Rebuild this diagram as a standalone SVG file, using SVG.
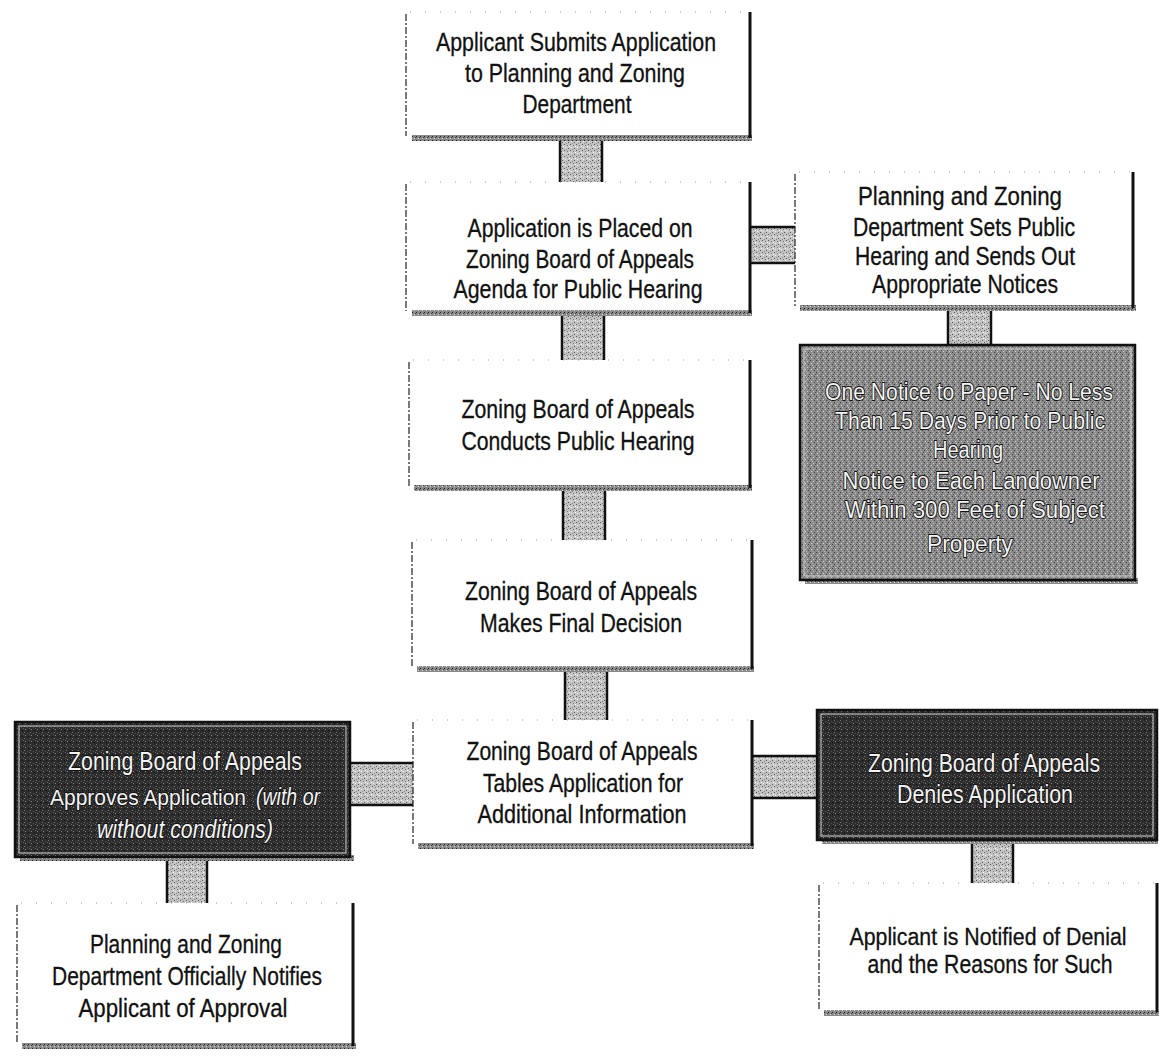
<svg xmlns="http://www.w3.org/2000/svg" width="1159" height="1057" viewBox="0 0 1159 1057">
<defs>
<pattern id="speckLight" width="6" height="6" patternUnits="userSpaceOnUse">
<rect width="6" height="6" fill="#c4c4c4"/>
<rect x="0" y="0" width="1" height="1" fill="#555"/>
<rect x="3" y="1" width="1" height="1" fill="#777"/>
<rect x="1" y="3" width="1" height="1" fill="#eee"/>
<rect x="4" y="4" width="1" height="1" fill="#555"/>
<rect x="2" y="5" width="1" height="1" fill="#888"/>
<rect x="5" y="2" width="1" height="1" fill="#fff"/>
</pattern>
<pattern id="speckMid" width="6" height="6" patternUnits="userSpaceOnUse">
<rect width="6" height="6" fill="#8a8a8a"/>
<rect x="0" y="0" width="1" height="1" fill="#3a3a3a"/>
<rect x="3" y="1" width="1" height="1" fill="#c8c8c8"/>
<rect x="1" y="3" width="1" height="1" fill="#d8d8d8"/>
<rect x="4" y="4" width="1" height="1" fill="#444"/>
<rect x="2" y="5" width="1" height="1" fill="#bbb"/>
<rect x="5" y="2" width="1" height="1" fill="#555"/>
</pattern>
<pattern id="speckDark" width="6" height="6" patternUnits="userSpaceOnUse">
<rect width="6" height="6" fill="#2c2c2c"/>
<rect x="0" y="0" width="1" height="1" fill="#777"/>
<rect x="3" y="1" width="1" height="1" fill="#555"/>
<rect x="1" y="3" width="1" height="1" fill="#888"/>
<rect x="4" y="4" width="1" height="1" fill="#111"/>
<rect x="5" y="2" width="1" height="1" fill="#666"/>
</pattern>
<pattern id="speckShadow" width="4" height="4" patternUnits="userSpaceOnUse">
<rect width="4" height="4" fill="#8a8a8a"/>
<rect x="0" y="0" width="1" height="1" fill="#222"/>
<rect x="2" y="2" width="1" height="1" fill="#ddd"/>
<rect x="3" y="1" width="1" height="1" fill="#444"/>
</pattern>
</defs>
<style>
.wbox{fill:#ffffff;stroke:none}
.ledge{stroke:#222;stroke-width:1.2;stroke-dasharray:7 2 2 2;fill:none}
.redge{stroke:#111;stroke-width:3;fill:none}
.tedge{stroke:#999;stroke-width:1;stroke-dasharray:1 14;fill:none}
.shadow{fill:url(#speckShadow)}
.grey{fill:url(#speckMid);stroke:#111;stroke-width:2.5}
.dark{fill:url(#speckDark);stroke:#111;stroke-width:2.5}
.inner{fill:none;stroke:#cfcfcf;stroke-width:1}
.conn{fill:url(#speckLight);stroke:none}
.cedge{stroke:#111;stroke-width:2.5;fill:none}
text{font-family:"Liberation Sans Narrow","Liberation Sans",Arial,sans-serif;font-size:25px;text-anchor:middle}
.sm{font-size:23px}
.md{font-size:24px}
.ap{font-size:22px}
.st{text-anchor:start}
.t{fill:#111;stroke:#111;stroke-width:0.3}
.tw{fill:#f4f4f4;stroke:#111;stroke-width:1.8;paint-order:stroke;stroke-linejoin:round}
.it{font-style:italic}
</style>

<g id="connectors">
<g id="c1"><rect class="conn" x="560" y="137" width="42" height="45"/><path class="cedge" d="M560 137V182M602 137V182"/></g>
<g id="c2"><rect class="conn" x="750" y="227" width="45" height="36"/><path class="cedge" d="M750 227H795M750 263H795"/></g>
<g id="c3"><rect class="conn" x="562" y="312" width="42" height="48"/><path class="cedge" d="M562 312V360M604 312V360"/></g>
<g id="c4"><rect class="conn" x="948" y="307" width="43" height="38"/><path class="cedge" d="M948 307V345M991 307V345"/></g>
<g id="c5"><rect class="conn" x="563" y="487" width="42" height="53"/><path class="cedge" d="M563 487V540M605 487V540"/></g>
<g id="c6"><rect class="conn" x="565" y="668" width="42" height="52"/><path class="cedge" d="M565 668V720M607 668V720"/></g>
<g id="c7"><rect class="conn" x="350" y="763" width="63" height="42"/><path class="cedge" d="M350 763H413M350 805H413"/></g>
<g id="c8"><rect class="conn" x="752" y="756" width="65" height="42"/><path class="cedge" d="M752 756H817M752 798H817"/></g>
<g id="c9"><rect class="conn" x="167" y="857" width="40" height="46"/><path class="cedge" d="M167 857V903M207 857V903"/></g>
<g id="c10"><rect class="conn" x="972" y="840" width="41" height="43"/><path class="cedge" d="M972 840V883M1013 840V883"/></g>
</g>

<g id="n1">
<rect class="wbox" x="406" y="12" width="344" height="125"/>
<rect class="shadow" x="412" y="135" width="340" height="6"/>
<path class="ledge" d="M406 14V136"/><path class="tedge" d="M410 12H748"/><path class="redge" d="M750 12V138"/>
<text class="t" x="576" y="51" textLength="280" lengthAdjust="spacingAndGlyphs">Applicant Submits Application</text>
<text class="t" x="575" y="82" textLength="220" lengthAdjust="spacingAndGlyphs">to Planning and Zoning</text>
<text class="t" x="577" y="113" textLength="109" lengthAdjust="spacingAndGlyphs">Department</text>
</g>

<g id="n2">
<rect class="wbox" x="406" y="182" width="344" height="130"/>
<rect class="shadow" x="412" y="310" width="340" height="6"/>
<path class="ledge" d="M406 184V311"/><path class="tedge" d="M410 182H748"/><path class="redge" d="M750 182V313"/>
<text class="t" x="580" y="237" textLength="225" lengthAdjust="spacingAndGlyphs">Application is Placed on</text>
<text class="t" x="580" y="268" textLength="228" lengthAdjust="spacingAndGlyphs">Zoning Board of Appeals</text>
<text class="t" x="578" y="298" textLength="249" lengthAdjust="spacingAndGlyphs">Agenda for Public Hearing</text>
</g>

<g id="n3">
<rect class="wbox" x="409" y="360" width="341" height="127"/>
<rect class="shadow" x="414" y="485" width="338" height="6"/>
<path class="ledge" d="M409 362V486"/><path class="tedge" d="M413 360H748"/><path class="redge" d="M750 360V488"/>
<text class="t" x="578" y="418" textLength="233" lengthAdjust="spacingAndGlyphs">Zoning Board of Appeals</text>
<text class="t" x="578" y="450" textLength="233" lengthAdjust="spacingAndGlyphs">Conducts Public Hearing</text>
</g>

<g id="n4">
<rect class="wbox" x="412" y="540" width="340" height="128"/>
<rect class="shadow" x="417" y="666" width="337" height="6"/>
<path class="ledge" d="M412 542V667"/><path class="tedge" d="M416 540H750"/><path class="redge" d="M752 540V669"/>
<text class="t" x="581" y="600" textLength="232" lengthAdjust="spacingAndGlyphs">Zoning Board of Appeals</text>
<text class="t" x="581" y="632" textLength="202" lengthAdjust="spacingAndGlyphs">Makes Final Decision</text>
</g>

<g id="n5">
<rect class="wbox" x="413" y="720" width="339" height="125"/>
<rect class="shadow" x="418" y="843" width="336" height="6"/>
<path class="ledge" d="M413 722V844"/><path class="tedge" d="M417 720H750"/><path class="redge" d="M752 720V846"/>
<text class="t" x="582" y="760" textLength="231" lengthAdjust="spacingAndGlyphs">Zoning Board of Appeals</text>
<text class="t" x="583" y="792" textLength="200" lengthAdjust="spacingAndGlyphs">Tables Application for</text>
<text class="t" x="582" y="823" textLength="209" lengthAdjust="spacingAndGlyphs">Additional Information</text>
</g>

<g id="n6">
<rect class="wbox" x="795" y="172" width="338" height="135"/>
<rect class="shadow" x="800" y="305" width="336" height="6"/>
<path class="ledge" d="M795 174V306"/><path class="tedge" d="M799 172H1131"/><path class="redge" d="M1133 172V308"/>
<text class="t" x="960" y="205" textLength="204" lengthAdjust="spacingAndGlyphs">Planning and Zoning</text>
<text class="t" x="964" y="236" textLength="222" lengthAdjust="spacingAndGlyphs">Department Sets Public</text>
<text class="t" x="965" y="265" textLength="220" lengthAdjust="spacingAndGlyphs">Hearing and Sends Out</text>
<text class="t" x="965" y="293" textLength="186" lengthAdjust="spacingAndGlyphs">Appropriate Notices</text>
</g>

<g id="n7">
<rect class="shadow" x="805" y="578" width="333" height="6"/>
<rect class="grey" x="800" y="345" width="335" height="235"/>
<rect class="inner" x="804" y="349" width="327" height="227"/>
<text class="tw sm" x="969" y="400" textLength="288" lengthAdjust="spacingAndGlyphs">One Notice to Paper - No Less</text>
<text class="tw sm" x="970" y="429" textLength="270" lengthAdjust="spacingAndGlyphs">Than 15 Days Prior to Public</text>
<text class="tw sm" x="968" y="458" textLength="70" lengthAdjust="spacingAndGlyphs">Hearing</text>
<text class="tw sm" x="971" y="489" textLength="257" lengthAdjust="spacingAndGlyphs">Notice to Each Landowner</text>
<text class="tw sm" x="975" y="518" textLength="260" lengthAdjust="spacingAndGlyphs">Within 300 Feet of Subject</text>
<text class="tw sm" x="970" y="552" textLength="86" lengthAdjust="spacingAndGlyphs">Property</text>
</g>

<g id="n8">
<rect class="shadow" x="20" y="855" width="334" height="6"/>
<rect class="dark" x="15" y="722" width="335" height="135"/>
<rect class="inner" x="19" y="726" width="327" height="127"/>
<text class="tw" x="185" y="770" textLength="234" lengthAdjust="spacingAndGlyphs">Zoning Board of Appeals</text>
<text class="tw st ap" x="50" y="805" textLength="196" lengthAdjust="spacingAndGlyphs">Approves Application</text>
<text class="tw st it md" x="256" y="805" textLength="64" lengthAdjust="spacingAndGlyphs">(with or</text>
<text class="tw it" x="185" y="838" textLength="176" lengthAdjust="spacingAndGlyphs">without conditions)</text>
</g>

<g id="n9">
<rect class="shadow" x="822" y="838" width="336" height="6"/>
<rect class="dark" x="817" y="710" width="340" height="130"/>
<rect class="inner" x="821" y="714" width="332" height="122"/>
<text class="tw" x="984" y="772" textLength="232" lengthAdjust="spacingAndGlyphs">Zoning Board of Appeals</text>
<text class="tw" x="985" y="803" textLength="176" lengthAdjust="spacingAndGlyphs">Denies Application</text>
</g>

<g id="n10">
<rect class="wbox" x="17" y="903" width="336" height="142"/>
<rect class="shadow" x="22" y="1043" width="334" height="6"/>
<path class="ledge" d="M17 905V1044"/><path class="tedge" d="M21 903H351"/><path class="redge" d="M353 903V1046"/>
<text class="t" x="186" y="953" textLength="192" lengthAdjust="spacingAndGlyphs">Planning and Zoning</text>
<text class="t" x="187" y="985" textLength="270" lengthAdjust="spacingAndGlyphs">Department Officially Notifies</text>
<text class="t" x="183" y="1017" textLength="209" lengthAdjust="spacingAndGlyphs">Applicant of Approval</text>
</g>

<g id="n11">
<rect class="wbox" x="819" y="883" width="338" height="129"/>
<rect class="shadow" x="824" y="1010" width="335" height="6"/>
<path class="ledge" d="M819 885V1011"/><path class="tedge" d="M823 883H1155"/><path class="redge" d="M1157 883V1012"/>
<text class="t sm" x="988" y="945" textLength="277" lengthAdjust="spacingAndGlyphs">Applicant is Notified of Denial</text>
<text class="t" x="990" y="973" textLength="245" lengthAdjust="spacingAndGlyphs">and the Reasons for Such</text>
</g>
</svg>
